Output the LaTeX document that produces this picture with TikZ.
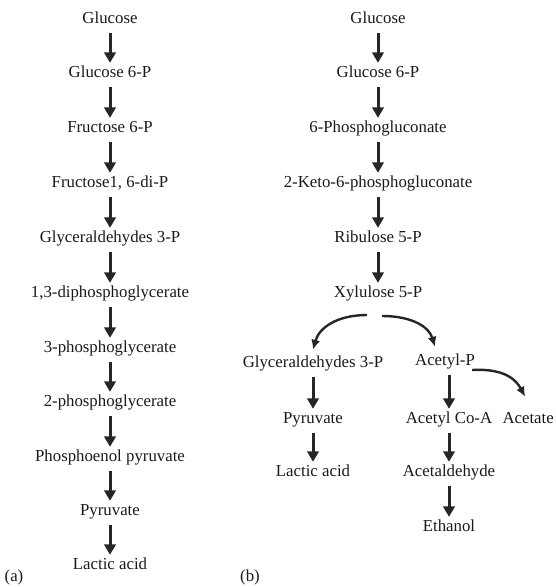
\documentclass[tikz,border=0pt]{standalone}
\usepackage{fontspec}
\setmainfont{Liberation Serif}
\usetikzlibrary{arrows.meta}

\begin{document}
\begin{tikzpicture}[x=1pt,y=-1pt,
    every node/.style={font=\fontsize{16.8}{20}\selectfont,text=black!90,
      inner sep=0pt,text height=11pt,text depth=3pt},
    conv/.style={-{Triangle[length=10.5pt,width=11.5pt]},line width=3pt,
      draw=black!85,shorten <=6.5pt,shorten >=3.5pt},
    branch/.style={-{Latex[length=10pt,width=9pt]},line width=2.4pt,draw=black!85}]
  \useasboundingbox (0,0) rectangle (555,587);
  % (a) glycolysis
  \node (a1)  at (110, 19.5) {Glucose};
  \node (a2)  at (110, 73.5) {Glucose 6-P};
  \node (a3)  at (110,128.5) {Fructose 6-P};
  \node (a4)  at (110,183.5) {Fructose1, 6-di-P};
  \node (a5)  at (110,238.5) {Glyceraldehydes 3-P};
  \node (a6)  at (110,293.5) {1,3-diphosphoglycerate};
  \node (a7)  at (110,348.5) {3-phosphoglycerate};
  \node (a8)  at (110,402.5) {2-phosphoglycerate};
  \node (a9)  at (110,457.5) {Phosphoenol pyruvate};
  \node (a10) at (110,511.5) {Pyruvate};
  \node (a11) at (110,565.5) {Lactic acid};
  \draw[conv] (a1) -- (a2);
  \draw[conv] (a2) -- (a3);
  \draw[conv] (a3) -- (a4);
  \draw[conv] (a4) -- (a5);
  \draw[conv] (a5) -- (a6);
  \draw[conv] (a6) -- (a7);
  \draw[conv] (a7) -- (a8);
  \draw[conv] (a8) -- (a9);
  \draw[conv] (a9) -- (a10);
  \draw[conv] (a10) -- (a11);
  \node (la) at (14,577) {(a)};

  % (b) phosphoketolase pathway
  \node (b1) at (378, 19.5) {Glucose};
  \node (b2) at (378, 73.5) {Glucose 6-P};
  \node (b3) at (378,128.5) {6-Phosphogluconate};
  \node (b4) at (378,183.5) {2-Keto-6-phosphogluconate};
  \node (b5) at (378,238.5) {Ribulose 5-P};
  \node (b6) at (378,293.5) {Xylulose 5-P};
  \draw[conv] (b1) -- (b2);
  \draw[conv] (b2) -- (b3);
  \draw[conv] (b3) -- (b4);
  \draw[conv] (b4) -- (b5);
  \draw[conv] (b5) -- (b6);

  \node (g1) at (313,363.5) {Glyceraldehydes 3-P};
  \node (g2) at (313,419.5) {Pyruvate};
  \node (g3) at (313,472.5) {Lactic acid};
  \draw[conv] (g1) -- (g2);
  \draw[conv] (g2) -- (g3);

  \node (e1) at (445,361.5) {Acetyl-P};
  \node (e2) at (449,419.5) {Acetyl Co-A};
  \node (e3) at (449,472.5) {Acetaldehyde};
  \node (e4) at (449,527.5) {Ethanol};
  \node[anchor=east] (ac) at (554,419.5) {Acetate};
  \draw[conv] (e1.south -| e2) -- (e2);
  \draw[conv] (e2) -- (e3);
  \draw[conv] (e3) -- (e4);

  \coordinate (xl) at (367,315);
  \coordinate (xr) at (382,316);
  \draw[branch] (xl) .. controls +(-30,0) and +(6,-22) .. ([yshift=6.5pt]g1.north);
  \draw[branch] (xr) .. controls +(30,0) and +(-6,-20) .. ([xshift=-10pt,yshift=7.5pt]e1.north);
  \draw[branch] ([xshift=-3pt,yshift=-8.5pt]e1.east) .. controls +(35,-2) and +(-8,-15)
    .. ([xshift=-3pt,yshift=15.5pt]ac.north);
  \node (lb) at (250,577) {(b)};
\end{tikzpicture}
\end{document}
